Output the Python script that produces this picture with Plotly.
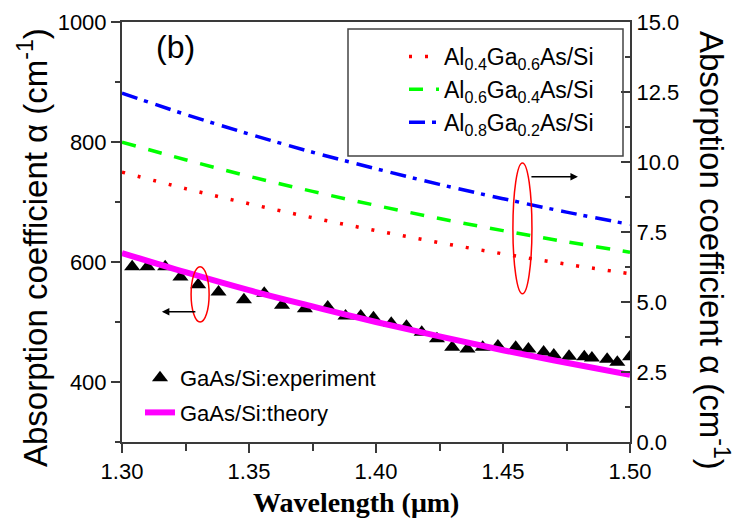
import plotly.graph_objects as go

# ---- data ----
theory_wl = [1.300, 1.325, 1.350, 1.375, 1.400, 1.425, 1.450, 1.475, 1.500]
al04_alpha = [9.64, 9.05, 8.51, 8.01, 7.55, 7.12, 6.72, 6.35, 6.01]
al06_alpha = [10.71, 10.08, 9.49, 8.95, 8.45, 7.98, 7.55, 7.15, 6.78]
al08_alpha = [12.46, 11.70, 11.00, 10.35, 9.76, 9.20, 8.69, 8.21, 7.77]
gaas_theory = [615, 583, 553, 526, 500, 476, 453, 432, 412]

exp_wl = [1.304, 1.310, 1.317, 1.323, 1.330, 1.338, 1.348, 1.356, 1.363, 1.372,
          1.381, 1.388, 1.394, 1.399, 1.406, 1.412, 1.418, 1.424, 1.430, 1.436,
          1.442, 1.448, 1.455, 1.460, 1.466, 1.470, 1.476, 1.482, 1.485, 1.491,
          1.495, 1.500]
exp_alpha = [592, 592, 592, 575, 562, 550, 537, 548, 528, 522,
             525, 510, 510, 507, 498, 493, 483, 472, 458, 455,
             458, 460, 458, 455, 450, 445, 443, 442, 440, 438,
             433, 442]

left_ticks = [400, 600, 800, 1000]
right_ticks = [0.0, 2.5, 5.0, 7.5, 10.0, 12.5, 15.0]
x_ticks = [1.30, 1.35, 1.40, 1.45, 1.50]

SANS = "Arial, Liberation Sans, sans-serif"
SERIF = "Times New Roman, Liberation Serif, serif"
AXC = "#3a3a3a"
Y_TITLE = "Absorption coefficient α (cm<sup>-1</sup>)"

# plot area in page pixels; the page body adds an 8px offset to the figure
OFF = 8
L, R, T, B = 122, 630, 22, 442
def px(xp):
    return (xp - L) / (R - L)
def py(yp):
    return (B - yp) / (B - T)

fig = go.Figure()

fig.add_trace(go.Scatter(
    x=theory_wl, y=al04_alpha, yaxis="y2", mode="lines", line_shape="spline",
    name="Al<sub>0.4</sub>Ga<sub>0.6</sub>As/Si",
    line=dict(color="#ff0000", width=3.5, dash="3px,13px"), legend="legend"))
fig.add_trace(go.Scatter(
    x=theory_wl, y=al06_alpha, yaxis="y2", mode="lines", line_shape="spline",
    name="Al<sub>0.6</sub>Ga<sub>0.4</sub>As/Si",
    line=dict(color="#00ff00", width=3.5, dash="14px,13px"), legend="legend"))
fig.add_trace(go.Scatter(
    x=theory_wl, y=al08_alpha, yaxis="y2", mode="lines", line_shape="spline",
    name="Al<sub>0.8</sub>Ga<sub>0.2</sub>As/Si",
    line=dict(color="#0000ff", width=3.5, dash="16px,7px,4px,8px"), legend="legend"))

fig.add_trace(go.Scatter(
    x=exp_wl, y=exp_alpha, mode="markers", name="GaAs/Si:experiment",
    marker=dict(symbol="triangle-up", size=14, color="black"),
    legend="legend2", legendgroup="a"))
fig.add_trace(go.Scatter(
    x=theory_wl, y=gaas_theory, mode="lines", line_shape="spline",
    name="GaAs/Si:theory", line=dict(color="#ff00ff", width=6),
    legend="legend2", legendgroup="b"))

# ellipses marking which curves belong to which axis
fig.add_shape(type="circle", xref="x", yref="y", x0=1.3272, x1=1.3343, y0=500, y1=592,
              line=dict(color="#ff0000", width=1.5))
fig.add_shape(type="circle", xref="x", yref="y", x0=1.4539, x1=1.4614, y0=547, y1=765,
              line=dict(color="#ff0000", width=1.5))
# legend frame
fig.add_shape(type="rect", xref="paper", yref="paper",
              x0=px(348), x1=px(623), y0=py(156), y1=py(29),
              line=dict(color="#444444", width=1.5), fillcolor="rgba(0,0,0,0)")

fig.add_annotation(x=1.3157, y=517, xref="x", yref="y", ax=35, ay=0, text="",
                   showarrow=True, arrowhead=2, arrowsize=1, arrowwidth=1.5, arrowcolor="black")
fig.add_annotation(x=1.4795, y=742, xref="x", yref="y", ax=-48, ay=0, text="",
                   showarrow=True, arrowhead=2, arrowsize=1, arrowwidth=1.5, arrowcolor="black")
fig.add_annotation(x=px(175), y=py(47), xref="paper", yref="paper", xanchor="center", yanchor="middle",
                   text="(b)", showarrow=False, font=dict(family=SANS, size=32, color="black"))
# axis titles, placed as in the reference
fig.add_annotation(x=px(356), y=py(503), xref="paper", yref="paper", xanchor="center", yanchor="middle",
                   text="<b>Wavelength (μm)</b>", showarrow=False,
                   font=dict(family=SERIF, size=28, color="black"))
fig.add_annotation(x=px(33), y=py(248), xref="paper", yref="paper", xanchor="center", yanchor="middle",
                   text=Y_TITLE, textangle=-90, showarrow=False,
                   font=dict(family=SANS, size=33, color="black"))
fig.add_annotation(x=px(714), y=py(250), xref="paper", yref="paper", xanchor="center", yanchor="middle",
                   text=Y_TITLE, textangle=90, showarrow=False,
                   font=dict(family=SANS, size=33, color="black"))

fig.update_layout(
    width=740, height=523,
    margin=dict(l=L - OFF, r=740 - R + OFF, t=T - OFF, b=523 - B + OFF, autoexpand=False),
    paper_bgcolor="white", plot_bgcolor="white",
    font=dict(family=SANS, size=22, color="black"),
    showlegend=True,
    legend=dict(x=px(404), y=py(35), xanchor="left", yanchor="top",
                bgcolor="rgba(0,0,0,0)", borderwidth=0, font=dict(family=SANS, size=23),
                tracegroupgap=0),
    legend2=dict(x=px(140), y=py(357), xanchor="left", yanchor="top",
                 bgcolor="rgba(0,0,0,0)", borderwidth=0, font=dict(family=SANS, size=22),
                 tracegroupgap=3, traceorder="grouped"),
    xaxis=dict(
        range=[1.30, 1.50], tickvals=x_ticks, ticktext=[f"{v:.2f}" for v in x_ticks],
        ticks="outside", ticklen=9, tickwidth=2, tickcolor=AXC, automargin=False,
        minor=dict(dtick=0.025, tick0=1.30, ticks="outside", ticklen=7, tickwidth=2, tickcolor=AXC),
        showline=True, linecolor=AXC, linewidth=2, mirror=True, showgrid=False, zeroline=False,
        tickfont=dict(size=22, family=SANS)),
    yaxis=dict(
        range=[300, 1000], tickvals=left_ticks, ticks="outside", ticklen=9, tickwidth=2, tickcolor=AXC,
        minor=dict(dtick=100, tick0=0, ticks="outside", ticklen=5, tickwidth=2, tickcolor=AXC),
        showline=True, linecolor=AXC, linewidth=2, showgrid=False, zeroline=False, automargin=False,
        tickfont=dict(size=22, family=SANS)),
    yaxis2=dict(
        range=[0, 15], overlaying="y", side="right", tickvals=right_ticks,
        ticktext=[f"{v:.1f}" for v in right_ticks], automargin=False,
        ticks="inside", ticklen=9, tickwidth=2, tickcolor=AXC,
        minor=dict(dtick=1.25, tick0=0, ticks="inside", ticklen=5, tickwidth=2, tickcolor=AXC),
        showline=True, linecolor=AXC, linewidth=2, showgrid=False, zeroline=False,
        tickfont=dict(size=22, family=SANS)),
)

fig.write_html("out.html")
